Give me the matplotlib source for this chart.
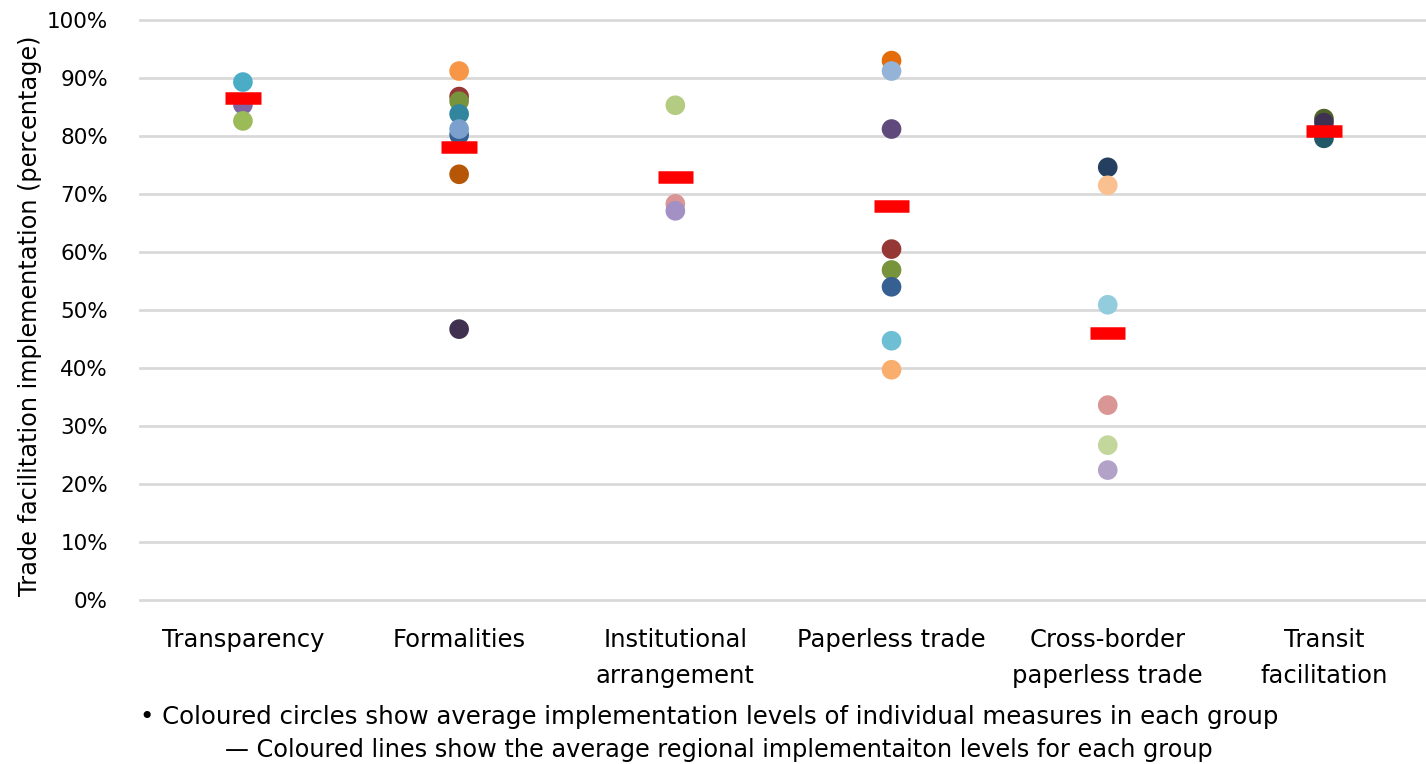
import matplotlib
matplotlib.use("Agg")
import matplotlib.pyplot as plt

categories = ["Transparency", "Formalities", "Institutional\narrangement",
              "Paperless trade", "Cross-border\npaperless trade", "Transit\nfacilitation"]

transparency_vals = [89.3, 85.4, 82.6]
transparency_cols = ["#4BACC6", "#8064A2", "#9BBB59"]

formalities_vals = [91.2, 86.8, 86.0, 80.2, 83.8, 81.2, 73.4, 46.7]
formalities_cols = ["#F79646", "#953735", "#77933C", "#376092", "#31859C", "#7BA0CD", "#B65708", "#403151"]

institutional_vals = [85.3, 68.3, 67.1]
institutional_cols = ["#B3CC82", "#D99694", "#A390C4"]

paperless_vals = [93.0, 91.2, 81.2, 60.5, 56.9, 54.0, 44.7, 39.7]
paperless_cols = ["#E46C0A", "#95B3D7", "#604A7B", "#953735", "#77933C", "#366092", "#6FBFD4", "#FAAE6E"]

crossborder_vals = [74.6, 71.5, 50.9, 33.6, 26.7, 22.4]
crossborder_cols = ["#243F60", "#FAC090", "#93CDDD", "#D99694", "#C3D69B", "#B3A2C7"]

transit_vals = [83.0, 82.3, 79.6]
transit_cols = ["#4F6228", "#3F3151", "#215968"]

regional_avg = [86.5, 78.1, 72.9, 67.9, 46.0, 80.9]

tick_vals = [0, 10, 20, 30, 40, 50, 60, 70, 80, 90, 100]
tick_labels = [f"{v}%" for v in tick_vals]

groups = [(transparency_vals, transparency_cols), (formalities_vals, formalities_cols),
          (institutional_vals, institutional_cols), (paperless_vals, paperless_cols),
          (crossborder_vals, crossborder_cols), (transit_vals, transit_cols)]

W, H = 1426, 764
fig = plt.figure(figsize=(W / 100, H / 100), dpi=100)
ax = fig.add_axes([140 / W, 1 - 600 / H, (1426 - 140) / W, (600 - 20) / H])

for i, (vals, cols) in enumerate(groups):
    ax.scatter([i] * len(vals), vals, s=200, c=cols, edgecolors="none", zorder=3)

for i, v in enumerate(regional_avg):
    ax.hlines(v, i - 0.082, i + 0.082, colors="#FF0000", linewidth=9, zorder=4)

ax.set_xlim(-0.476, 5.472)
ax.set_ylim(0, 100)
ax.set_yticks(tick_vals)
ax.set_yticklabels(tick_labels)
ax.set_xticks(range(len(categories)))
ax.set_xticklabels(categories, linespacing=1.65)
ax.tick_params(axis="y", length=0, labelsize=15.5, colors="#000000", pad=23)
ax.tick_params(axis="x", length=0, labelsize=17.5, colors="#000000", pad=20)
ax.yaxis.grid(True, color="#D9D9D9", linewidth=2)
for gl in ax.get_ygridlines():
    gl.set_clip_on(False)
ax.set_axisbelow(True)
for s in ax.spines.values():
    s.set_visible(False)
ax.set_ylabel("Trade facilitation implementation (percentage)", fontsize=17.3)
ax.yaxis.set_label_coords(-98 / (1426 - 140), 0.49)

fig.text(140 / W, 1 - 717 / H, "\u2022 Coloured circles show average implementation levels of individual measures in each group",
         fontsize=17.6, va="center", ha="left")
fig.text(225 / W, 1 - 750 / H, "\u2014 Coloured lines show the average regional implementaiton levels for each group",
         fontsize=17.3, va="center", ha="left")

fig.savefig("out.png", dpi=100)
